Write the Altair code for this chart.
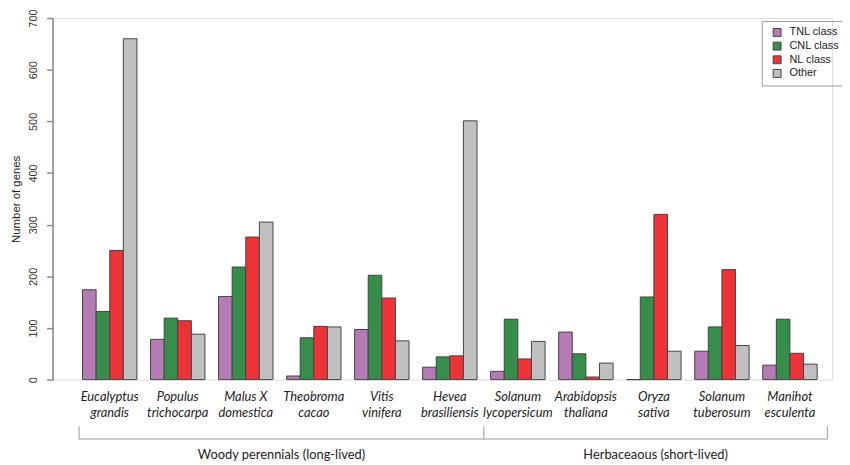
import altair as alt
import pandas as pd

species = ["Eucalyptus grandis", "Populus trichocarpa", "Malus X domestica", "Theobroma cacao",
           "Vitis vinifera", "Hevea brasiliensis", "Solanum lycopersicum", "Arabidopsis thaliana",
           "Oryza sativa", "Solanum tuberosum", "Manihot esculenta"]
label_line1 = ["Eucalyptus", "Populus", "Malus X", "Theobroma", "Vitis", "Hevea", "Solanum",
               "Arabidopsis", "Oryza", "Solanum", "Manihot"]
label_line2 = ["grandis", "trichocarpa", "domestica", "cacao", "vinifera", "brasiliensis",
               "lycopersicum", "thaliana", "sativa", "tuberosum", "esculenta"]

classes = ["TNL class", "CNL class", "NL class", "Other"]
class_colors = ["#B57BB5", "#378E4B", "#EE3338", "#C0C0C0"]

tnl = [174, 78, 161, 7, 97, 24, 16, 92, 0, 55, 28]
cnl = [132, 119, 218, 81, 202, 44, 117, 50, 160, 102, 117]
nl = [250, 114, 276, 103, 158, 46, 40, 5, 320, 213, 51]
other = [660, 88, 305, 102, 75, 501, 74, 32, 55, 66, 30]

group_names = ["Woody perennials (long-lived)", "Herbaceaous (short-lived)"]
group_start = [0.75, 30.5]   # in bar-width units
group_end = [30.5, 55.75]

rows = []
for i, sp in enumerate(species):
    for c, vals in zip(classes, [tnl, cnl, nl, other]):
        rows.append({"species": sp, "cls": c, "value": vals[i]})
bars_df = pd.DataFrame(rows)

labels_df = pd.DataFrame({"species": species,
                          "label": [a + "\n" + b for a, b in zip(label_line1, label_line2)]})

grp_df = pd.DataFrame({"name": group_names, "start": group_start, "end": group_end})
grp_df["mid"] = (grp_df["start"] + grp_df["end"]) / 2
ticks_df = pd.DataFrame({"pos": sorted(set(group_start + group_end))})
span_df = pd.DataFrame({"start": [min(group_start)], "end": [max(group_end)]})

TOP = 8
W = 787
H = 373 - TOP
L_UNIT, R_UNIT = -1.2, 56.1

xband = alt.Scale(domain=species, paddingInner=0.2, paddingOuter=0.33, align=0.667)

bars = alt.Chart(bars_df).mark_bar(stroke="#444444", strokeWidth=1).encode(
    x=alt.X("species:N", scale=xband, axis=None, sort=species),
    xOffset=alt.XOffset("cls:N", scale=alt.Scale(domain=classes, paddingInner=0, paddingOuter=0)),
    y=alt.Y("value:Q", scale=alt.Scale(domain=[0, 700], nice=False),
            axis=alt.Axis(values=list(range(0, 701, 100)), title="Number of genes",
                          grid=False, labelAngle=270, labelFont="Liberation Sans",
                          labelFontSize=11, labelColor="#333333", labelPadding=8,
                          tickSize=6, tickColor="#888888", tickWidth=1.5,
                          domainColor="#888888", domainWidth=1.5,
                          titleFont="Liberation Sans", titleFontSize=11.5,
                          titleFontWeight="normal", titleColor="#222222", titlePadding=6)),
    color=alt.Color("cls:N", scale=alt.Scale(domain=classes, range=class_colors),
                    legend=alt.Legend(title=None, orient="none", legendX=716, legendY=19 - 8 - TOP,
                                      strokeColor="#999999", padding=6, symbolType="square",
                                      symbolSize=64, symbolStrokeColor="#444444",
                                      symbolStrokeWidth=1, symbolOffset=4,
                                      labelFont="Liberation Sans", labelFontSize=11,
                                      labelColor="#222222", labelOffset=7, rowPadding=0.8)),
)

xlab = alt.Chart(labels_df).mark_text(lineBreak="\n", font="Lato", fontStyle="italic",
                                      fontSize=13, color="#222222", baseline="top",
                                      lineHeight=16).encode(
    x=alt.X("species:N", scale=xband, axis=None, sort=species),
    y=alt.value(385 - TOP),
    text="label:N",
)

lin = alt.Scale(domain=[L_UNIT, R_UNIT], nice=False, zero=False)

vticks = alt.Chart(ticks_df).mark_rule(color="#999999", strokeWidth=1).encode(
    x=alt.X("pos:Q", scale=lin, axis=None),
    y=alt.value(420 - TOP), y2=alt.value(433 - TOP),
)
hline = alt.Chart(span_df).mark_rule(color="#999999", strokeWidth=1).encode(
    x=alt.X("start:Q", scale=lin, axis=None), x2="end:Q",
    y=alt.value(433 - TOP),
)
gtext = alt.Chart(grp_df).mark_text(font="Lato", fontSize=13, color="#222222",
                                    baseline="middle").encode(
    x=alt.X("mid:Q", scale=lin, axis=None),
    y=alt.value(449 - TOP),
    text="name:N",
)

top = alt.layer(bars, xlab)
bottom = alt.layer(vticks, hline, gtext)

chart = alt.layer(top, bottom).resolve_scale(x="independent").properties(
    width=W, height=H,
    autosize=alt.AutoSizeParams(type="none"),
    padding={"left": 45, "top": TOP, "right": 10, "bottom": 80},
).configure_view(stroke=None).configure(background="white")

chart.save("out.html", embed_options={"renderer": "svg", "actions": False})
